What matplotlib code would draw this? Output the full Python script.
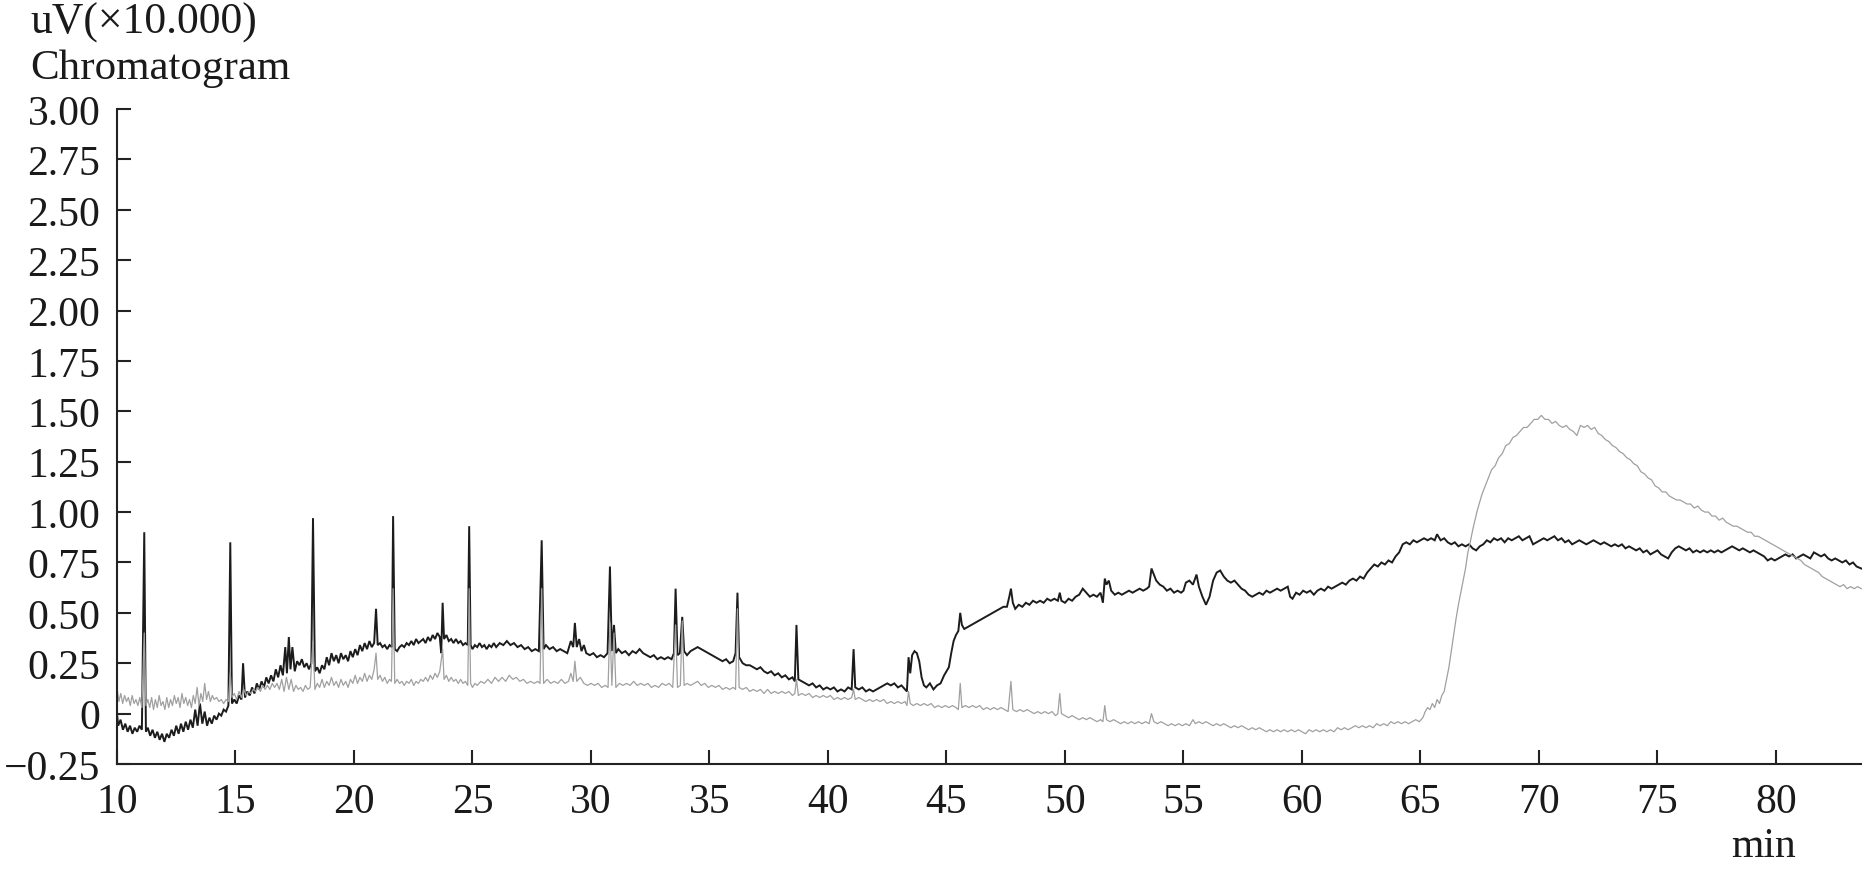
import matplotlib
matplotlib.use("Agg")
import matplotlib.pyplot as plt

# ---------------- data ----------------
x_ticks = [10, 15, 20, 25, 30, 35, 40, 45, 50, 55, 60, 65, 70, 75, 80]
y_ticks = [-0.25, 0, 0.25, 0.5, 0.75, 1.0, 1.25, 1.5, 1.75, 2.0, 2.25, 2.5, 2.75, 3.0]
y_tick_labels = ["\u22120.25", "0", "0.25", "0.50", "0.75", "1.00", "1.25", "1.50",
                 "1.75", "2.00", "2.25", "2.50", "2.75", "3.00"]
y_unit_label = "uV(\u00d710.000)"
title_label = "Chromatogram"
x_unit_label = "min"

# dark trace: (retention time [min], signal)
black_trace = [
    (10.00, 0.00), (10.05, -0.06), (10.15, -0.03), (10.25, -0.08), (10.35, -0.05), (10.45, -0.09),
    (10.55, -0.06), (10.65, -0.10), (10.75, -0.07), (10.85, -0.09), (10.95, -0.06), (11.05, -0.08),
    (11.15, 0.90), (11.22, -0.09), (11.30, -0.07), (11.40, -0.11), (11.50, -0.08), (11.60, -0.12),
    (11.70, -0.09), (11.80, -0.13), (11.90, -0.10), (12.00, -0.14), (12.10, -0.10), (12.20, -0.12),
    (12.30, -0.08), (12.40, -0.11), (12.50, -0.06), (12.60, -0.10), (12.70, -0.05), (12.80, -0.09),
    (12.90, -0.04), (13.00, -0.08), (13.10, -0.03), (13.20, -0.07), (13.30, 0.02), (13.40, -0.06),
    (13.50, 0.05), (13.60, -0.05), (13.70, 0.01), (13.80, -0.06), (13.90, -0.02), (14.00, -0.05),
    (14.10, -0.01), (14.20, -0.03), (14.30, 0.00), (14.40, -0.01), (14.50, 0.02), (14.60, 0.01),
    (14.70, 0.04), (14.78, 0.85), (14.85, 0.05), (14.95, 0.07), (15.05, 0.05), (15.15, 0.09),
    (15.25, 0.07), (15.32, 0.25), (15.40, 0.08), (15.50, 0.11), (15.60, 0.09), (15.70, 0.13),
    (15.80, 0.10), (15.90, 0.15), (16.00, 0.12), (16.10, 0.16), (16.20, 0.13), (16.30, 0.18),
    (16.40, 0.15), (16.50, 0.19), (16.60, 0.16), (16.70, 0.22), (16.80, 0.18), (16.90, 0.24),
    (17.00, 0.19), (17.10, 0.33), (17.17, 0.20), (17.25, 0.38), (17.32, 0.22), (17.40, 0.33),
    (17.50, 0.21), (17.60, 0.26), (17.70, 0.24), (17.80, 0.27), (17.90, 0.23), (18.00, 0.25),
    (18.10, 0.22), (18.20, 0.25), (18.27, 0.97), (18.35, 0.21), (18.45, 0.23), (18.55, 0.20),
    (18.65, 0.24), (18.75, 0.22), (18.85, 0.28), (18.95, 0.24), (19.05, 0.30), (19.15, 0.26),
    (19.25, 0.29), (19.35, 0.25), (19.45, 0.30), (19.55, 0.27), (19.65, 0.29), (19.75, 0.26),
    (19.85, 0.31), (19.95, 0.28), (20.05, 0.32), (20.15, 0.29), (20.25, 0.34), (20.35, 0.31),
    (20.45, 0.35), (20.55, 0.32), (20.65, 0.36), (20.75, 0.33), (20.85, 0.35), (20.93, 0.52),
    (21.00, 0.34), (21.10, 0.35), (21.20, 0.33), (21.30, 0.34), (21.40, 0.32), (21.50, 0.34),
    (21.60, 0.33), (21.65, 0.98), (21.72, 0.32), (21.82, 0.31), (21.92, 0.33), (22.02, 0.34),
    (22.12, 0.33), (22.22, 0.35), (22.32, 0.34), (22.42, 0.36), (22.52, 0.34), (22.62, 0.37),
    (22.72, 0.35), (22.82, 0.36), (22.92, 0.37), (23.02, 0.35), (23.12, 0.38), (23.22, 0.36),
    (23.32, 0.39), (23.42, 0.37), (23.52, 0.40), (23.62, 0.38), (23.68, 0.30), (23.74, 0.55),
    (23.80, 0.37), (23.90, 0.39), (24.00, 0.36), (24.10, 0.37), (24.20, 0.35), (24.30, 0.37),
    (24.40, 0.35), (24.50, 0.36), (24.60, 0.34), (24.70, 0.35), (24.80, 0.34), (24.86, 0.93),
    (24.92, 0.34), (25.00, 0.32), (25.10, 0.34), (25.20, 0.33), (25.30, 0.35), (25.40, 0.33),
    (25.50, 0.34), (25.60, 0.32), (25.70, 0.34), (25.80, 0.33), (25.90, 0.35), (26.00, 0.33),
    (26.15, 0.35), (26.30, 0.34), (26.45, 0.36), (26.60, 0.34), (26.75, 0.35), (26.90, 0.33),
    (27.05, 0.34), (27.20, 0.32), (27.35, 0.33), (27.50, 0.31), (27.65, 0.32), (27.80, 0.31),
    (27.92, 0.86), (28.00, 0.32), (28.10, 0.34), (28.25, 0.32), (28.40, 0.33), (28.55, 0.31),
    (28.70, 0.32), (28.85, 0.31), (29.00, 0.30), (29.15, 0.36), (29.25, 0.33), (29.32, 0.45),
    (29.40, 0.33), (29.50, 0.37), (29.60, 0.31), (29.70, 0.34), (29.80, 0.30), (29.95, 0.29),
    (30.10, 0.30), (30.25, 0.28), (30.40, 0.29), (30.55, 0.28), (30.70, 0.30), (30.80, 0.73),
    (30.88, 0.31), (30.97, 0.44), (31.05, 0.30), (31.15, 0.32), (31.30, 0.30), (31.45, 0.31),
    (31.60, 0.29), (31.75, 0.31), (31.90, 0.30), (32.05, 0.32), (32.20, 0.30), (32.35, 0.29),
    (32.50, 0.28), (32.65, 0.29), (32.80, 0.27), (32.95, 0.28), (33.10, 0.27), (33.25, 0.28),
    (33.40, 0.27), (33.50, 0.30), (33.57, 0.62), (33.65, 0.29), (33.75, 0.30), (33.85, 0.48),
    (33.93, 0.31), (34.05, 0.29), (34.20, 0.31), (34.35, 0.32), (34.50, 0.33), (34.65, 0.32),
    (34.80, 0.31), (34.95, 0.30), (35.10, 0.29), (35.25, 0.28), (35.40, 0.27), (35.55, 0.26),
    (35.70, 0.27), (35.85, 0.25), (36.00, 0.26), (36.10, 0.30), (36.18, 0.60), (36.25, 0.28),
    (36.40, 0.25), (36.55, 0.24), (36.70, 0.24), (36.85, 0.23), (37.00, 0.22), (37.15, 0.23),
    (37.30, 0.21), (37.45, 0.20), (37.60, 0.21), (37.75, 0.19), (37.90, 0.20), (38.05, 0.18),
    (38.20, 0.19), (38.35, 0.17), (38.50, 0.18), (38.60, 0.16), (38.67, 0.44), (38.75, 0.17),
    (38.90, 0.16), (39.05, 0.15), (39.20, 0.14), (39.35, 0.15), (39.50, 0.13), (39.65, 0.14),
    (39.80, 0.12), (39.95, 0.13), (40.10, 0.12), (40.25, 0.13), (40.40, 0.11), (40.55, 0.12),
    (40.70, 0.11), (40.85, 0.13), (41.00, 0.12), (41.08, 0.32), (41.15, 0.13), (41.30, 0.12),
    (41.45, 0.13), (41.60, 0.11), (41.75, 0.12), (41.90, 0.11), (42.05, 0.12), (42.20, 0.13),
    (42.35, 0.14), (42.50, 0.15), (42.65, 0.14), (42.80, 0.15), (42.95, 0.13), (43.10, 0.14),
    (43.25, 0.12), (43.33, 0.11), (43.40, 0.28), (43.47, 0.20), (43.55, 0.29), (43.65, 0.31),
    (43.75, 0.30), (43.85, 0.26), (43.95, 0.18), (44.05, 0.14), (44.15, 0.13), (44.30, 0.15),
    (44.45, 0.12), (44.60, 0.14), (44.75, 0.15), (44.90, 0.19), (45.00, 0.21), (45.10, 0.23),
    (45.20, 0.30), (45.30, 0.36), (45.40, 0.39), (45.50, 0.41), (45.58, 0.50), (45.65, 0.44),
    (45.75, 0.42), (45.90, 0.43), (46.05, 0.44), (46.20, 0.45), (46.35, 0.46), (46.50, 0.47),
    (46.65, 0.48), (46.80, 0.49), (46.95, 0.50), (47.10, 0.51), (47.25, 0.52), (47.40, 0.53),
    (47.55, 0.53), (47.65, 0.58), (47.72, 0.62), (47.80, 0.55), (47.90, 0.52), (48.05, 0.54),
    (48.20, 0.53), (48.35, 0.55), (48.50, 0.54), (48.65, 0.56), (48.80, 0.55), (48.95, 0.56),
    (49.10, 0.55), (49.25, 0.57), (49.40, 0.56), (49.55, 0.57), (49.70, 0.56), (49.78, 0.60),
    (49.85, 0.56), (50.00, 0.55), (50.15, 0.57), (50.30, 0.56), (50.45, 0.58), (50.60, 0.59),
    (50.75, 0.62), (50.90, 0.60), (51.05, 0.58), (51.20, 0.59), (51.35, 0.58), (51.50, 0.60),
    (51.60, 0.55), (51.68, 0.67), (51.75, 0.64), (51.85, 0.66), (51.95, 0.61), (52.10, 0.59),
    (52.25, 0.60), (52.40, 0.59), (52.55, 0.60), (52.70, 0.61), (52.85, 0.60), (53.00, 0.61),
    (53.15, 0.62), (53.30, 0.61), (53.45, 0.62), (53.55, 0.63), (53.65, 0.72), (53.75, 0.69),
    (53.85, 0.66), (54.00, 0.64), (54.15, 0.63), (54.30, 0.61), (54.45, 0.62), (54.60, 0.60),
    (54.75, 0.61), (54.90, 0.60), (55.00, 0.61), (55.10, 0.65), (55.25, 0.66), (55.40, 0.64),
    (55.55, 0.69), (55.65, 0.63), (55.80, 0.58), (55.95, 0.54), (56.10, 0.58), (56.25, 0.66),
    (56.40, 0.70), (56.55, 0.71), (56.70, 0.68), (56.85, 0.66), (57.00, 0.65), (57.15, 0.66),
    (57.30, 0.64), (57.45, 0.62), (57.60, 0.61), (57.75, 0.59), (57.90, 0.58), (58.05, 0.59),
    (58.20, 0.60), (58.35, 0.59), (58.50, 0.61), (58.65, 0.60), (58.80, 0.61), (58.95, 0.62),
    (59.10, 0.61), (59.25, 0.62), (59.40, 0.63), (59.50, 0.58), (59.60, 0.57), (59.75, 0.60),
    (59.90, 0.59), (60.05, 0.61), (60.20, 0.60), (60.35, 0.61), (60.50, 0.59), (60.65, 0.61),
    (60.80, 0.62), (60.95, 0.61), (61.10, 0.63), (61.25, 0.62), (61.40, 0.63), (61.55, 0.64),
    (61.70, 0.65), (61.85, 0.64), (62.00, 0.66), (62.15, 0.67), (62.30, 0.66), (62.45, 0.68),
    (62.60, 0.67), (62.75, 0.70), (62.90, 0.72), (63.05, 0.74), (63.20, 0.73), (63.35, 0.75),
    (63.50, 0.74), (63.65, 0.76), (63.80, 0.75), (63.95, 0.78), (64.10, 0.80), (64.25, 0.84),
    (64.40, 0.85), (64.55, 0.84), (64.70, 0.86), (64.85, 0.85), (65.00, 0.86), (65.15, 0.87),
    (65.30, 0.86), (65.45, 0.87), (65.60, 0.86), (65.70, 0.89), (65.85, 0.86), (66.00, 0.87),
    (66.15, 0.85), (66.30, 0.84), (66.45, 0.85), (66.60, 0.83), (66.75, 0.84), (66.90, 0.83),
    (67.05, 0.84), (67.20, 0.82), (67.35, 0.81), (67.50, 0.83), (67.65, 0.84), (67.80, 0.86),
    (67.95, 0.85), (68.10, 0.87), (68.25, 0.86), (68.40, 0.87), (68.55, 0.85), (68.70, 0.87),
    (68.85, 0.86), (69.00, 0.87), (69.15, 0.88), (69.30, 0.86), (69.45, 0.87), (69.60, 0.88),
    (69.75, 0.84), (69.90, 0.85), (70.05, 0.86), (70.20, 0.87), (70.35, 0.86), (70.50, 0.87),
    (70.65, 0.88), (70.80, 0.86), (70.95, 0.87), (71.10, 0.85), (71.25, 0.86), (71.40, 0.84),
    (71.55, 0.85), (71.70, 0.86), (71.85, 0.85), (72.00, 0.84), (72.15, 0.85), (72.30, 0.86),
    (72.45, 0.85), (72.60, 0.84), (72.75, 0.85), (72.90, 0.84), (73.05, 0.83), (73.20, 0.84),
    (73.35, 0.83), (73.50, 0.84), (73.65, 0.82), (73.80, 0.83), (73.95, 0.82), (74.10, 0.81),
    (74.25, 0.82), (74.40, 0.80), (74.55, 0.81), (74.70, 0.79), (74.85, 0.80), (75.00, 0.81),
    (75.15, 0.79), (75.30, 0.78), (75.45, 0.77), (75.60, 0.80), (75.75, 0.82), (75.90, 0.83),
    (76.05, 0.82), (76.20, 0.81), (76.35, 0.82), (76.50, 0.80), (76.65, 0.81), (76.80, 0.80),
    (76.95, 0.81), (77.10, 0.80), (77.25, 0.81), (77.40, 0.80), (77.55, 0.81), (77.70, 0.80),
    (77.85, 0.81), (78.00, 0.82), (78.15, 0.83), (78.30, 0.82), (78.45, 0.81), (78.60, 0.82),
    (78.75, 0.81), (78.90, 0.80), (79.05, 0.81), (79.20, 0.80), (79.35, 0.79), (79.50, 0.78),
    (79.65, 0.76), (79.80, 0.77), (79.95, 0.76), (80.10, 0.77), (80.25, 0.78), (80.40, 0.79),
    (80.55, 0.78), (80.70, 0.79), (80.85, 0.77), (81.00, 0.78), (81.15, 0.79), (81.30, 0.78),
    (81.45, 0.77), (81.60, 0.80), (81.75, 0.79), (81.90, 0.78), (82.05, 0.79), (82.20, 0.77),
    (82.35, 0.76), (82.50, 0.77), (82.65, 0.76), (82.80, 0.75), (82.95, 0.76), (83.10, 0.74),
    (83.25, 0.75), (83.40, 0.73), (83.60, 0.72),
]

# light trace: (retention time [min], signal)
gray_trace = [
    (10.00, 0.13), (10.08, 0.06), (10.16, 0.10), (10.24, 0.05), (10.32, 0.09), (10.40, 0.06),
    (10.48, 0.08), (10.56, 0.04), (10.64, 0.09), (10.72, 0.05), (10.80, 0.07), (10.88, 0.04),
    (10.96, 0.08), (11.05, 0.03), (11.15, 0.40), (11.22, 0.04), (11.30, 0.07), (11.38, 0.03),
    (11.46, 0.08), (11.54, 0.02), (11.62, 0.07), (11.70, 0.03), (11.78, 0.09), (11.86, 0.04),
    (11.94, 0.06), (12.02, 0.02), (12.10, 0.08), (12.18, 0.03), (12.26, 0.07), (12.34, 0.04),
    (12.42, 0.09), (12.50, 0.05), (12.58, 0.08), (12.66, 0.03), (12.74, 0.10), (12.82, 0.05),
    (12.90, 0.08), (12.98, 0.04), (13.06, 0.07), (13.14, 0.03), (13.22, 0.09), (13.30, 0.05),
    (13.38, 0.13), (13.46, 0.04), (13.54, 0.10), (13.62, 0.06), (13.70, 0.15), (13.78, 0.07),
    (13.86, 0.11), (13.94, 0.06), (14.02, 0.09), (14.10, 0.07), (14.20, 0.08), (14.30, 0.06),
    (14.40, 0.07), (14.50, 0.05), (14.60, 0.07), (14.70, 0.06), (14.78, 0.20), (14.85, 0.08),
    (14.95, 0.10), (15.05, 0.07), (15.15, 0.11), (15.25, 0.08), (15.35, 0.12), (15.45, 0.09),
    (15.55, 0.11), (15.65, 0.10), (15.75, 0.12), (15.85, 0.11), (15.95, 0.13), (16.05, 0.11),
    (16.15, 0.14), (16.25, 0.12), (16.35, 0.14), (16.45, 0.12), (16.55, 0.15), (16.65, 0.13),
    (16.75, 0.15), (16.85, 0.12), (16.95, 0.17), (17.05, 0.11), (17.15, 0.18), (17.25, 0.12),
    (17.35, 0.17), (17.45, 0.11), (17.55, 0.14), (17.65, 0.12), (17.75, 0.13), (17.85, 0.11),
    (17.95, 0.14), (18.05, 0.12), (18.15, 0.13), (18.27, 0.36), (18.35, 0.12), (18.45, 0.15),
    (18.55, 0.13), (18.65, 0.17), (18.75, 0.13), (18.85, 0.16), (18.95, 0.14), (19.05, 0.18),
    (19.15, 0.14), (19.25, 0.16), (19.35, 0.13), (19.45, 0.17), (19.55, 0.14), (19.65, 0.16),
    (19.75, 0.13), (19.85, 0.17), (19.95, 0.15), (20.05, 0.19), (20.15, 0.15), (20.25, 0.18),
    (20.35, 0.16), (20.45, 0.20), (20.55, 0.16), (20.65, 0.19), (20.75, 0.17), (20.85, 0.22),
    (20.93, 0.30), (21.00, 0.17), (21.10, 0.19), (21.20, 0.16), (21.30, 0.18), (21.40, 0.15),
    (21.50, 0.17), (21.58, 0.16), (21.65, 0.62), (21.72, 0.15), (21.82, 0.17), (21.92, 0.15),
    (22.02, 0.16), (22.12, 0.14), (22.22, 0.16), (22.32, 0.15), (22.42, 0.17), (22.52, 0.14),
    (22.62, 0.16), (22.72, 0.15), (22.82, 0.17), (22.92, 0.16), (23.02, 0.18), (23.12, 0.16),
    (23.22, 0.19), (23.32, 0.17), (23.42, 0.20), (23.52, 0.18), (23.62, 0.21), (23.74, 0.32),
    (23.80, 0.17), (23.90, 0.19), (24.00, 0.16), (24.10, 0.18), (24.20, 0.16), (24.30, 0.17),
    (24.40, 0.15), (24.50, 0.17), (24.60, 0.15), (24.70, 0.16), (24.80, 0.14), (24.86, 0.62),
    (24.92, 0.15), (25.00, 0.13), (25.10, 0.15), (25.20, 0.14), (25.35, 0.16), (25.50, 0.15),
    (25.65, 0.17), (25.80, 0.15), (25.95, 0.18), (26.10, 0.16), (26.25, 0.18), (26.40, 0.16),
    (26.55, 0.19), (26.70, 0.17), (26.85, 0.18), (27.00, 0.16), (27.15, 0.17), (27.30, 0.15),
    (27.45, 0.16), (27.60, 0.15), (27.75, 0.16), (27.85, 0.15), (27.92, 0.62), (28.00, 0.15),
    (28.15, 0.17), (28.30, 0.15), (28.45, 0.16), (28.60, 0.15), (28.75, 0.17), (28.90, 0.15),
    (29.05, 0.16), (29.15, 0.20), (29.25, 0.16), (29.32, 0.26), (29.40, 0.16), (29.55, 0.18),
    (29.70, 0.15), (29.85, 0.14), (30.00, 0.15), (30.15, 0.14), (30.30, 0.15), (30.45, 0.13),
    (30.60, 0.14), (30.72, 0.13), (30.80, 0.45), (30.88, 0.14), (30.97, 0.40), (31.05, 0.13),
    (31.20, 0.15), (31.35, 0.14), (31.50, 0.15), (31.65, 0.14), (31.80, 0.16), (31.95, 0.14),
    (32.10, 0.15), (32.25, 0.14), (32.40, 0.15), (32.55, 0.13), (32.70, 0.14), (32.85, 0.13),
    (33.00, 0.15), (33.15, 0.14), (33.30, 0.15), (33.45, 0.13), (33.57, 0.44), (33.65, 0.13),
    (33.77, 0.14), (33.85, 0.46), (33.93, 0.14), (34.05, 0.15), (34.20, 0.14), (34.35, 0.15),
    (34.50, 0.16), (34.65, 0.14), (34.80, 0.15), (34.95, 0.13), (35.10, 0.14), (35.25, 0.13),
    (35.40, 0.14), (35.55, 0.12), (35.70, 0.13), (35.85, 0.12), (36.00, 0.13), (36.10, 0.12),
    (36.18, 0.52), (36.25, 0.13), (36.40, 0.12), (36.55, 0.13), (36.70, 0.11), (36.85, 0.12),
    (37.00, 0.11), (37.15, 0.12), (37.30, 0.10), (37.45, 0.12), (37.60, 0.10), (37.75, 0.11),
    (37.90, 0.10), (38.05, 0.11), (38.20, 0.10), (38.35, 0.11), (38.50, 0.09), (38.60, 0.10),
    (38.67, 0.17), (38.75, 0.09), (38.90, 0.10), (39.05, 0.09), (39.20, 0.10), (39.35, 0.08),
    (39.50, 0.09), (39.65, 0.08), (39.80, 0.09), (39.95, 0.08), (40.10, 0.09), (40.25, 0.07),
    (40.40, 0.08), (40.55, 0.07), (40.70, 0.08), (40.85, 0.07), (41.00, 0.08), (41.08, 0.12),
    (41.15, 0.07), (41.30, 0.08), (41.45, 0.07), (41.60, 0.06), (41.75, 0.07), (41.90, 0.06),
    (42.05, 0.07), (42.20, 0.06), (42.35, 0.07), (42.50, 0.05), (42.65, 0.06), (42.80, 0.05),
    (42.95, 0.06), (43.10, 0.05), (43.25, 0.06), (43.33, 0.04), (43.40, 0.11), (43.47, 0.05),
    (43.60, 0.04), (43.75, 0.05), (43.90, 0.04), (44.05, 0.05), (44.20, 0.04), (44.35, 0.05),
    (44.50, 0.03), (44.65, 0.04), (44.80, 0.03), (44.95, 0.04), (45.10, 0.03), (45.25, 0.04),
    (45.40, 0.03), (45.50, 0.02), (45.58, 0.15), (45.65, 0.03), (45.80, 0.04), (45.95, 0.03),
    (46.10, 0.04), (46.25, 0.03), (46.40, 0.04), (46.55, 0.02), (46.70, 0.03), (46.85, 0.02),
    (47.00, 0.03), (47.15, 0.02), (47.30, 0.03), (47.45, 0.02), (47.60, 0.01), (47.72, 0.16),
    (47.80, 0.02), (47.95, 0.01), (48.10, 0.02), (48.25, 0.01), (48.40, 0.02), (48.55, 0.01),
    (48.70, 0.00), (48.85, 0.01), (49.00, 0.00), (49.15, 0.01), (49.30, 0.00), (49.45, 0.01),
    (49.60, -0.01), (49.70, 0.00), (49.78, 0.10), (49.85, 0.00), (50.00, -0.01), (50.15, -0.02),
    (50.30, -0.01), (50.45, -0.02), (50.60, -0.03), (50.75, -0.02), (50.90, -0.03), (51.05, -0.02),
    (51.20, -0.03), (51.35, -0.04), (51.50, -0.03), (51.60, -0.04), (51.68, 0.04), (51.75, -0.03),
    (51.90, -0.04), (52.05, -0.03), (52.20, -0.04), (52.35, -0.05), (52.50, -0.04), (52.65, -0.05),
    (52.80, -0.04), (52.95, -0.05), (53.10, -0.04), (53.25, -0.05), (53.40, -0.04), (53.55, -0.05),
    (53.65, 0.00), (53.75, -0.04), (53.90, -0.05), (54.05, -0.04), (54.20, -0.05), (54.35, -0.06),
    (54.50, -0.05), (54.65, -0.06), (54.80, -0.05), (54.95, -0.06), (55.10, -0.05), (55.25, -0.06),
    (55.40, -0.03), (55.50, -0.05), (55.65, -0.04), (55.80, -0.05), (55.95, -0.04), (56.10, -0.05),
    (56.25, -0.06), (56.40, -0.05), (56.55, -0.06), (56.70, -0.05), (56.85, -0.06), (57.00, -0.07),
    (57.15, -0.06), (57.30, -0.07), (57.45, -0.06), (57.60, -0.07), (57.75, -0.08), (57.90, -0.07),
    (58.05, -0.08), (58.20, -0.07), (58.35, -0.08), (58.50, -0.09), (58.65, -0.08), (58.80, -0.09),
    (58.95, -0.08), (59.10, -0.09), (59.25, -0.08), (59.40, -0.09), (59.55, -0.08), (59.70, -0.09),
    (59.85, -0.08), (60.00, -0.09), (60.15, -0.10), (60.30, -0.08), (60.45, -0.09), (60.60, -0.08),
    (60.75, -0.09), (60.90, -0.08), (61.05, -0.09), (61.20, -0.08), (61.35, -0.09), (61.50, -0.07),
    (61.65, -0.08), (61.80, -0.07), (61.95, -0.08), (62.10, -0.07), (62.25, -0.06), (62.40, -0.07),
    (62.55, -0.06), (62.70, -0.07), (62.85, -0.06), (63.00, -0.07), (63.15, -0.05), (63.30, -0.06),
    (63.45, -0.05), (63.60, -0.06), (63.75, -0.04), (63.90, -0.05), (64.05, -0.04), (64.20, -0.05),
    (64.35, -0.04), (64.50, -0.05), (64.65, -0.04), (64.80, -0.03), (64.95, -0.04), (65.10, -0.02),
    (65.20, 0.01), (65.30, 0.03), (65.40, 0.02), (65.50, 0.05), (65.60, 0.03), (65.70, 0.07),
    (65.80, 0.05), (65.90, 0.09), (66.00, 0.11), (66.10, 0.17), (66.20, 0.23), (66.30, 0.31),
    (66.40, 0.39), (66.50, 0.47), (66.60, 0.54), (66.70, 0.60), (66.80, 0.66), (66.90, 0.72),
    (67.00, 0.80), (67.10, 0.85), (67.20, 0.91), (67.30, 0.96), (67.40, 1.01), (67.50, 1.05),
    (67.60, 1.09), (67.70, 1.12), (67.80, 1.15), (67.90, 1.18), (68.00, 1.21), (68.15, 1.23),
    (68.30, 1.27), (68.45, 1.29), (68.60, 1.33), (68.75, 1.34), (68.90, 1.37), (69.05, 1.38),
    (69.20, 1.40), (69.35, 1.42), (69.50, 1.42), (69.65, 1.44), (69.80, 1.46), (69.95, 1.46),
    (70.10, 1.48), (70.25, 1.46), (70.40, 1.46), (70.55, 1.44), (70.70, 1.45), (70.85, 1.43),
    (71.00, 1.42), (71.15, 1.43), (71.30, 1.41), (71.45, 1.40), (71.60, 1.38), (71.75, 1.43),
    (71.90, 1.42), (72.05, 1.43), (72.20, 1.41), (72.35, 1.42), (72.50, 1.39), (72.65, 1.38),
    (72.80, 1.36), (72.95, 1.35), (73.10, 1.33), (73.25, 1.32), (73.40, 1.30), (73.55, 1.29),
    (73.70, 1.27), (73.85, 1.26), (74.00, 1.24), (74.15, 1.23), (74.30, 1.20), (74.45, 1.19),
    (74.60, 1.17), (74.75, 1.16), (74.90, 1.13), (75.05, 1.12), (75.20, 1.10), (75.35, 1.10),
    (75.50, 1.08), (75.65, 1.07), (75.80, 1.06), (75.95, 1.06), (76.10, 1.05), (76.25, 1.04),
    (76.40, 1.04), (76.55, 1.02), (76.70, 1.03), (76.85, 1.01), (77.00, 1.00), (77.15, 1.00),
    (77.30, 0.98), (77.45, 0.98), (77.60, 0.96), (77.75, 0.97), (77.90, 0.95), (78.05, 0.94),
    (78.20, 0.93), (78.35, 0.93), (78.50, 0.92), (78.65, 0.91), (78.80, 0.90), (78.95, 0.90),
    (79.10, 0.88), (79.25, 0.88), (79.40, 0.87), (79.55, 0.86), (79.70, 0.85), (79.85, 0.84),
    (80.00, 0.83), (80.15, 0.82), (80.30, 0.81), (80.45, 0.80), (80.60, 0.79), (80.75, 0.78),
    (80.90, 0.77), (81.05, 0.76), (81.20, 0.74), (81.35, 0.73), (81.50, 0.72), (81.65, 0.71),
    (81.80, 0.70), (81.95, 0.68), (82.10, 0.67), (82.25, 0.66), (82.40, 0.65), (82.55, 0.64),
    (82.70, 0.63), (82.85, 0.64), (83.00, 0.62), (83.15, 0.63), (83.30, 0.62), (83.45, 0.63),
    (83.60, 0.62),
]

black_t, black_v = zip(*black_trace)
gray_t, gray_v = zip(*gray_trace)

# ---------------- figure ----------------
FONT = ["Liberation Serif", "DejaVu Serif"]
plt.rcParams["font.family"] = FONT

W, H = 1862, 870
fig = plt.figure(figsize=(W / 100, H / 100), dpi=100)
ax = fig.add_axes([117 / W, 1 - 765 / H, 1 - 117 / W, (765 - 110) / H])

ax.plot(black_t, black_v, color="#1c1c1c", lw=1.4, solid_joinstyle="miter")
ax.plot(gray_t, gray_v, color="#a0a0a0", lw=0.9)

ax.set_xlim(10, 83.63)
ax.set_ylim(-0.25, 3.0)

ax.spines["top"].set_visible(False)
ax.spines["right"].set_visible(False)
for s in ("left", "bottom"):
    ax.spines[s].set_linewidth(1.5)
    ax.spines[s].set_color("#222222")

ax.set_xticks(x_ticks)
ax.set_xticklabels([str(v) for v in x_ticks])
ax.set_yticks(y_ticks)
ax.set_yticklabels(y_tick_labels)

ax.tick_params(axis="both", direction="in", length=10, width=1.5, color="#222222",
               labelsize=30, labelcolor="#1a1a1a")
ax.tick_params(axis="y", pad=12)
ax.tick_params(axis="x", pad=13)

fig.text(30 / W, 1 - 34 / H, y_unit_label, fontsize=31.5, color="#1a1a1a",
         ha="left", va="baseline")
fig.text(30 / W, 1 - 79 / H, title_label, fontsize=31, color="#1a1a1a",
         ha="left", va="baseline")
fig.text(1763 / W, 1 - 857 / H, x_unit_label, fontsize=30, color="#1a1a1a",
         ha="center", va="baseline")

fig.savefig("out.png", dpi=100, facecolor="white")
